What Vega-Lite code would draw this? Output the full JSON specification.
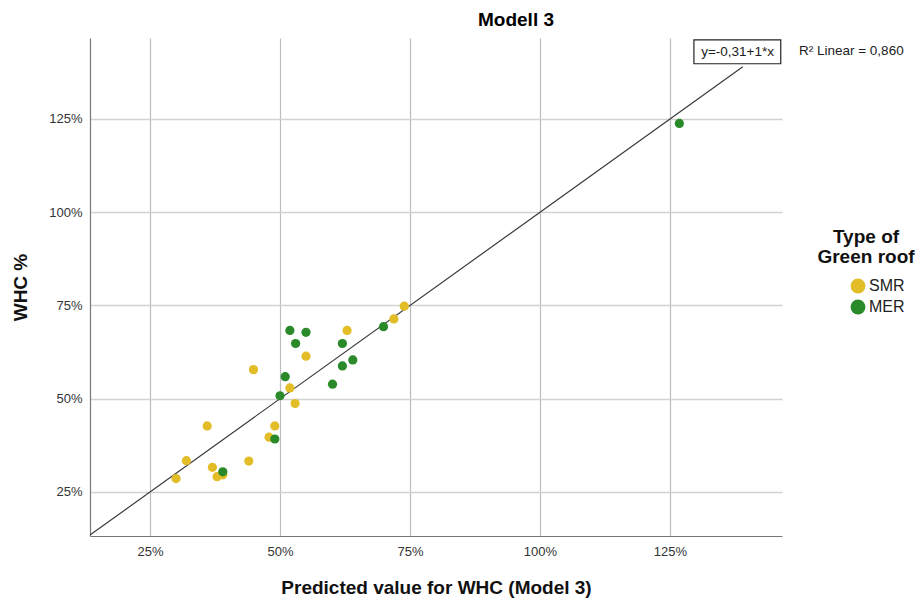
{
  "$schema": "https://vega.github.io/schema/vega-lite/v6.json",
  "autosize": "none",
  "width": 692,
  "height": 498,
  "padding": {"left": 90, "top": 38, "right": 140, "bottom": 66},
  "background": "white",
  "config": {
    "view": {"stroke": null},
    "font": "Liberation Sans"
  },
  "title": {
    "text": "Modell 3",
    "font": "Liberation Sans",
    "fontSize": 19,
    "fontWeight": "bold",
    "color": "#000000",
    "anchor": "middle",
    "frame": "group",
    "dx": 80,
    "offset": 8
  },
  "datasets": {
    "pts": [
      {"pred": 73.9, "whc": 74.8, "type": "SMR"},
      {"pred": 71.9, "whc": 71.4, "type": "SMR"},
      {"pred": 62.9, "whc": 68.3, "type": "SMR"},
      {"pred": 55.0, "whc": 61.4, "type": "SMR"},
      {"pred": 44.9, "whc": 57.8, "type": "SMR"},
      {"pred": 51.9, "whc": 52.9, "type": "SMR"},
      {"pred": 52.9, "whc": 48.7, "type": "SMR"},
      {"pred": 36.0, "whc": 42.7, "type": "SMR"},
      {"pred": 49.0, "whc": 42.7, "type": "SMR"},
      {"pred": 47.9, "whc": 39.7, "type": "SMR"},
      {"pred": 32.0, "whc": 33.4, "type": "SMR"},
      {"pred": 44.0, "whc": 33.3, "type": "SMR"},
      {"pred": 37.0, "whc": 31.6, "type": "SMR"},
      {"pred": 37.9, "whc": 29.1, "type": "SMR"},
      {"pred": 39.0, "whc": 29.6, "type": "SMR"},
      {"pred": 30.0, "whc": 28.6, "type": "SMR"},
      {"pred": 69.9, "whc": 69.3, "type": "MER"},
      {"pred": 51.9, "whc": 68.3, "type": "MER"},
      {"pred": 55.0, "whc": 67.8, "type": "MER"},
      {"pred": 53.0, "whc": 64.8, "type": "MER"},
      {"pred": 62.0, "whc": 64.8, "type": "MER"},
      {"pred": 62.0, "whc": 58.8, "type": "MER"},
      {"pred": 64.0, "whc": 60.4, "type": "MER"},
      {"pred": 51.0, "whc": 55.9, "type": "MER"},
      {"pred": 60.1, "whc": 53.9, "type": "MER"},
      {"pred": 50.0, "whc": 50.8, "type": "MER"},
      {"pred": 49.0, "whc": 39.2, "type": "MER"},
      {"pred": 39.0, "whc": 30.4, "type": "MER"},
      {"pred": 126.8, "whc": 123.8, "type": "MER"}
    ],
    "fit": [
      {"pred": 13.46, "whc": 13.46},
      {"pred": 139.0, "whc": 139.0}
    ],
    "box": [
      {"x1": 129.6, "x2": 146.3, "y1": 146.2, "y2": 139.8}
    ],
    "eq": [
      {"pred": 138.0, "whc": 143.0, "label": "y=-0,31+1*x"}
    ],
    "r2": [
      {"pred": 149.8, "whc": 143.3, "label": "R² Linear = 0,860"}
    ]
  },
  "layer": [
    {
      "data": {"name": "fit"},
      "mark": {"type": "line", "color": "#3a3a3a", "strokeWidth": 1.2},
      "encoding": {
        "x": {
          "field": "pred", "type": "quantitative",
          "scale": {"domain": [13.46, 146.54], "nice": false, "zero": false},
          "axis": {
            "values": [25, 50, 75, 100, 125],
            "labelExpr": "datum.value + '%'",
            "grid": true,
            "gridColor": "#bdbdbd",
            "gridWidth": 1.2,
            "ticks": false,
            "domainColor": "#777777",
            "domainWidth": 1.2,
            "labelFont": "Liberation Sans",
            "labelFontSize": 13,
            "labelColor": "#333333",
            "labelPadding": 9,
            "title": "Predicted value for WHC (Model 3)",
            "titleFont": "Liberation Sans",
            "titleFontSize": 19,
            "titleFontWeight": "bold",
            "titleColor": "#111111",
            "titlePadding": 20
          }
        },
        "y": {
          "field": "whc", "type": "quantitative",
          "scale": {"domain": [13.2, 146.7], "nice": false, "zero": false},
          "axis": {
            "values": [25, 50, 75, 100, 125],
            "labelExpr": "datum.value + '%'",
            "grid": true,
            "gridColor": "#d2d2d2",
            "gridWidth": 1.5,
            "ticks": false,
            "domainColor": "#777777",
            "domainWidth": 1.2,
            "labelFont": "Liberation Sans",
            "labelFontSize": 13,
            "labelColor": "#333333",
            "labelPadding": 8,
            "title": "WHC %",
            "titleFont": "Liberation Sans",
            "titleFontSize": 19,
            "titleFontWeight": "bold",
            "titleColor": "#111111",
            "titlePadding": 18
          }
        }
      }
    },
    {
      "data": {"name": "pts"},
      "mark": {"type": "circle", "size": 85, "opacity": 1},
      "encoding": {
        "x": {"field": "pred", "type": "quantitative"},
        "y": {"field": "whc", "type": "quantitative"},
        "color": {
          "field": "type", "type": "nominal",
          "scale": {"domain": ["SMR", "MER"], "range": ["#e2bd27", "#2a8a2a"]},
          "legend": {
            "title": ["Type of", "Green roof"],
            "orient": "none",
            "legendX": 727,
            "legendY": 190,
            "padding": 0,
            "titleFont": "Liberation Sans",
            "titleFontSize": 19,
            "titleFontWeight": "bold",
            "titleColor": "#111111",
            "titleAlign": "center",
            "titleAnchor": "middle",
            "titleLineHeight": 20,
            "titlePadding": 11,
            "symbolType": "circle",
            "symbolSize": 220,
            "symbolOffset": 23,
            "symbolStrokeWidth": 0,
            "labelFont": "Liberation Sans",
            "labelFontSize": 16,
            "labelColor": "#222222",
            "labelOffset": 3,
            "rowPadding": 5
          }
        }
      }
    },
    {
      "data": {"name": "box"},
      "mark": {"type": "rect", "fill": "white", "stroke": "#222222", "strokeWidth": 1.2},
      "encoding": {
        "x": {"field": "x1", "type": "quantitative"},
        "x2": {"field": "x2"},
        "y": {"field": "y1", "type": "quantitative"},
        "y2": {"field": "y2"}
      }
    },
    {
      "data": {"name": "eq"},
      "mark": {"type": "text", "font": "Liberation Sans", "fontSize": 13.5, "color": "#222222", "align": "center", "baseline": "middle"},
      "encoding": {
        "x": {"field": "pred", "type": "quantitative"},
        "y": {"field": "whc", "type": "quantitative"},
        "text": {"field": "label"}
      }
    },
    {
      "data": {"name": "r2"},
      "mark": {"type": "text", "font": "Liberation Sans", "fontSize": 13.5, "color": "#222222", "align": "left", "baseline": "middle"},
      "encoding": {
        "x": {"field": "pred", "type": "quantitative"},
        "y": {"field": "whc", "type": "quantitative"},
        "text": {"field": "label"}
      }
    }
  ]
}
